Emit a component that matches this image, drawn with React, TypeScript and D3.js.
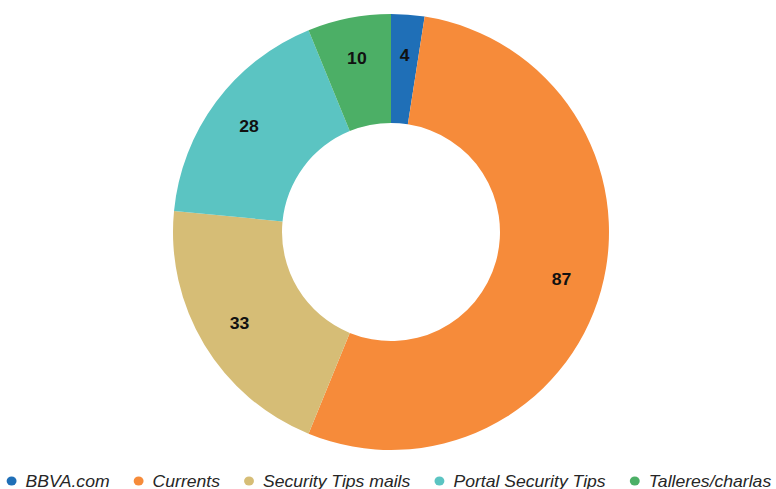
import React, { useEffect, useRef } from "react";
import * as d3 from "d3";

const categories = ["BBVA.com", "Currents", "Security Tips mails", "Portal Security Tips", "Talleres/charlas"];
const values = [4, 87, 33, 28, 10];
const colors = ["#1f6fb7", "#f68b3a", "#d6bd76", "#5bc4c2", "#4caf66"];

const W = 776;
const H = 489;

export default function App() {
  const ref = useRef<SVGSVGElement>(null);

  useEffect(() => {
    const svg = d3.select(ref.current);
    svg.selectAll("*").remove();
    const cx = 391, cy = 232, outerR = 218, innerR = 109, labelR = 177;
    const sx = 1.1;
    const data = categories.map((c, i) => ({ name: c, value: values[i], color: colors[i] }));
    const pie = d3.pie<any>().value((d) => d.value).sort(null);
    const arcs = pie(data);
    const arc = d3.arc<any>().innerRadius(innerR).outerRadius(outerR);
    const labelArc = d3.arc<any>().innerRadius(labelR).outerRadius(labelR);
    const g = svg.append("g").attr("transform", `translate(${cx},${cy})`);
    g.selectAll("path").data(arcs).enter().append("path")
      .attr("d", arc as any)
      .attr("fill", (d: any) => d.data.color);
    g.selectAll("text").data(arcs).enter().append("text")
      .attr("transform", (d: any) => `translate(${labelArc.centroid(d)}) scale(${sx},1)`)
      .attr("text-anchor", "middle")
      .attr("dy", "0.36em")
      .attr("font-family", "Liberation Sans, Arial, sans-serif")
      .attr("font-weight", "bold")
      .attr("font-size", 16)
      .attr("fill", "#111")
      .text((d: any) => d.data.value);

    // legend
    const outer = svg.append("g");
    const lg = outer.append("g");
    const ly = 481;
    const r = 4.5;
    const textOff = 12.7;
    const items = lg.selectAll("g").data(data).enter().append("g");
    items.append("circle").attr("r", r).attr("cy", ly).attr("fill", (d: any) => d.color);
    items.append("text")
      .attr("x", textOff)
      .attr("y", ly)
      .attr("dy", "0.35em")
      .attr("font-family", "Liberation Sans, Arial, sans-serif")
      .attr("font-style", "italic")
      .attr("font-size", 16)
      .attr("fill", "#262626")
      .text((d: any) => d.name);
    const widths: number[] = [];
    items.select("text").each(function () {
      widths.push((this as SVGTextElement).getComputedTextLength());
    });
    const gap = 21.8;
    const itemW = widths.map((w) => r + textOff + w);
    const total = d3.sum(itemW) + gap * (itemW.length - 1);
    let x = -total / 2 + r;
    items.each(function (_d, i) {
      d3.select(this).attr("transform", `translate(${x},0)`);
      x += itemW[i] + gap;
    });
    outer.attr("transform", `translate(389,0) scale(${sx},1)`);
  }, []);

  return <svg ref={ref} width={W} height={H} style={{ position: "absolute", left: 0, top: 0 }} />;
}
